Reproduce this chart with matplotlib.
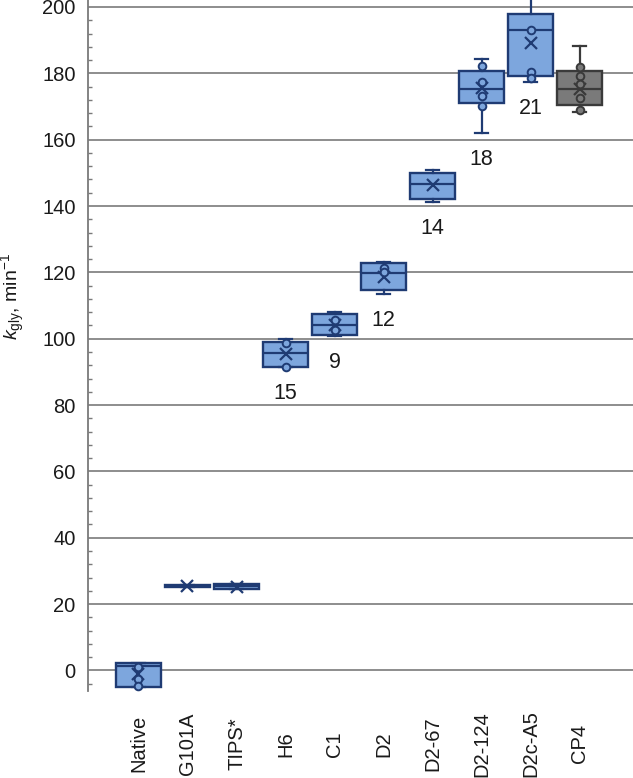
import numpy as np
import matplotlib
matplotlib.use("Agg")
import matplotlib.pyplot as plt

plt.rcParams['font.family'] = ['Liberation Sans', 'DejaVu Sans']
plt.rcParams['mathtext.fontset'] = 'custom'
plt.rcParams['mathtext.rm'] = 'Liberation Sans'
plt.rcParams['mathtext.it'] = 'Liberation Sans:italic'

# variants and box statistics (k_gly, min^-1)
variants = ["Native", "G101A", "TIPS*", "H6", "C1", "D2", "D2-67", "D2-124", "D2c-A5", "CP4"]
whislo = [-4.9, 25.2, 24.4, 91.6, 100.8, 113.5, 141.1, 161.9, 177.5, 168.4]
q1 = [-4.9, 25.2, 24.4, 91.6, 101.1, 114.7, 142.1, 171.0, 179.2, 170.3]
med = [1.2, 25.4, 25.4, 95.6, 104.1, 119.9, 146.6, 175.4, 193.0, 175.2]
q3 = [2.3, 25.7, 26.2, 99.1, 107.4, 122.7, 150.1, 180.8, 197.9, 180.8]
whishi = [2.3, 25.7, 26.2, 99.8, 108.0, 123.0, 150.9, 184.3, 203.5, 188.1]
means = [-1.2, 25.5, 25.2, 95.3, 104.1, 118.7, 146.3, 175.5, 189.1, 175.2]
points = [
    [1.0, -2.6, -4.6],
    [],
    [],
    [98.8, 91.6],
    [105.7, 102.6],
    [121.3, 120.0],
    [],
    [182.3, 177.5, 173.2, 170.2],
    [193.0, 180.5, 178.5],
    [181.8, 179.1, 176.7, 172.7, 169.0],
]

# number of mutations noted under some boxes
count_variants = ["H6", "C1", "D2", "D2-67", "D2-124", "D2c-A5"]
count_labels = ["15", "9", "12", "14", "18", "21"]

blue_fill = "#7DA6DD"
blue_edge = "#1F3B73"
gray_fill = "#7A7A7A"
gray_edge = "#3A3A3A"

fig = plt.figure(figsize=(6.33, 7.78), dpi=100)
ax = fig.add_axes([88 / 633, 1 - 691 / 778, 1 - 88 / 633, 691 / 778])

pos = np.arange(len(variants))
for i, name in enumerate(variants):
    fill, edge = (gray_fill, gray_edge) if name == "CP4" else (blue_fill, blue_edge)
    stats = [dict(whislo=whislo[i], q1=q1[i], med=med[i], q3=q3[i], whishi=whishi[i],
                  mean=means[i], fliers=[])]
    ax.bxp(stats, positions=[pos[i]], widths=0.92, showmeans=True, patch_artist=True,
           showfliers=False,
           boxprops=dict(facecolor=fill, edgecolor=edge, linewidth=1.7),
           medianprops=dict(color=edge, linewidth=1.6),
           whiskerprops=dict(color=edge, linewidth=1.6),
           capprops=dict(color=edge, linewidth=1.6),
           capwidths=0.28,
           meanprops=dict(marker='x', markeredgecolor=edge, markersize=9,
                          markeredgewidth=1.6))
    if points[i]:
        ax.plot([pos[i]] * len(points[i]), points[i], 'o', markersize=5.5,
                markerfacecolor=fill, markeredgecolor=edge, markeredgewidth=1.4,
                zorder=4)

for name, lab in zip(count_variants, count_labels):
    i = variants.index(name)
    ax.text(pos[i], whislo[i] - 8, lab, ha='center', va='center', fontsize=15.5,
            color='#1a1a1a')

ax.set_xlim(-1.03, 10.09)
ax.set_ylim(-6.2, 202.1)
ax.set_yticks(np.arange(0, 201, 20))
ax.set_yticks(np.arange(-4, 201, 4), minor=True)
ax.yaxis.grid(True, which='major', color='#858585', linewidth=1.3)
ax.set_axisbelow(True)
ax.tick_params(axis='y', which='major', length=0, pad=9, labelsize=14.5,
               labelcolor='#1a1a1a')
ax.tick_params(axis='y', which='minor', direction='in', length=3, color='#7a7a7a',
               width=1)
ax.set_xticks(pos)
ax.set_xticklabels(variants, rotation=90, va='center', ha='center', fontsize=14.5,
                   color='#1a1a1a')
ax.tick_params(axis='x', length=0, pad=38)

for side in ['top', 'right', 'bottom']:
    ax.spines[side].set_visible(False)
ax.spines['left'].set_color('#7a7a7a')
ax.spines['left'].set_linewidth(1.3)

fig.text(13 / 633, 1 - 297 / 778, r'$k_{\mathrm{gly}}$, min$^{-1}$', rotation=90,
         ha='center', va='center', fontsize=14, color='#1a1a1a')

fig.savefig("out.png", dpi=100)
